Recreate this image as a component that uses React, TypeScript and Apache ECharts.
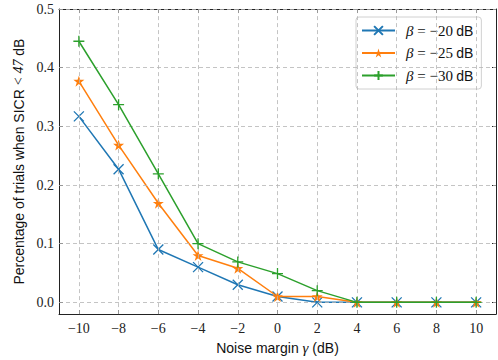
import React, { useEffect, useRef } from "react";
import * as echarts from "echarts";

const xValues = [-10, -8, -6, -4, -2, 0, 2, 4, 6, 8, 10];
const beta20 = [0.317, 0.227, 0.09, 0.06, 0.03, 0.01, 0, 0, 0, 0, 0];
const beta25 = [0.377, 0.268, 0.169, 0.08, 0.058, 0.01, 0.01, 0, 0, 0, 0];
const beta30 = [0.445, 0.337, 0.219, 0.1, 0.069, 0.049, 0.02, 0, 0, 0, 0];
const xTicks = [-10, -8, -6, -4, -2, 0, 2, 4, 6, 8, 10];
const yTicks = [0, 0.1, 0.2, 0.3, 0.4, 0.5];
const seriesNames = ["β = −20 dB", "β = −25 dB", "β = −30 dB"];
const colors = ["#1f77b4", "#ff7f0e", "#2ca02c"];

const SERIF = "'Liberation Serif', 'DejaVu Serif', serif";
const SANS = "'Liberation Sans', Arial, sans-serif";

const X_PATH = "path://M0,0L10,10M10,0L0,10";
const PLUS_PATH = "path://M5,0L5,10M0,5L10,5";
const STAR_PATH =
  "path://M5,0L6.18,3.82L10,3.82L6.91,6.18L8.09,10L5,7.64L1.91,10L3.09,6.18L0,3.82L3.82,3.82Z";

const fmtX = (v: number) => (v < 0 ? "−" + Math.abs(v) : String(v));

export default function App() {
  const ref = useRef<HTMLDivElement>(null);
  useEffect(() => {
    if (!ref.current) return;
    const chart = echarts.init(ref.current, undefined, { renderer: "svg" });
    const tickCommon = {
      show: true,
      inside: true,
      length: 4,
      lineStyle: { color: "#222", width: 1 },
    };
    const axisLine = { show: true, onZero: false, lineStyle: { color: "#222", width: 1 } };
    const mk = (i: number, data: number[], symbol: string, size: number, fill: boolean) => ({
      type: "line",
      name: seriesNames[i],
      data: xValues.map((x, k) => [x, data[k]]),
      xAxisIndex: 0,
      yAxisIndex: 0,
      symbol,
      symbolSize: size,
      showAllSymbol: true,
      clip: false,
      z: 3 + i,
      lineStyle: { color: colors[i], width: 1.5 },
      itemStyle: {
        color: fill ? colors[i] : "rgba(0,0,0,0)",
        borderColor: colors[i],
        borderWidth: fill ? 0 : 1.3,
      },
    });
    chart.setOption({
      animation: false,
      grid: { left: 59, right: 2, top: 9, bottom: 43, containLabel: false },
      xAxis: [
        {
          type: "value",
          min: -11,
          max: 11,
          position: "bottom",
          axisLine,
          axisTick: { ...tickCommon, customValues: xTicks },
          splitLine: { show: false },
          axisLabel: {
            customValues: xTicks,
            formatter: (v: number) => fmtX(v),
            fontFamily: SERIF,
            fontSize: 14,
            color: "#222",
            margin: 7,
          },
          name: "Noise margin {g|γ} (dB)",
          nameLocation: "middle",
          nameGap: 24,
          nameTextStyle: {
            fontFamily: SANS,
            fontSize: 14,
            color: "#111",
            rich: { g: { fontFamily: SERIF, fontStyle: "italic", fontSize: 15, color: "#111" } },
          },
        },
        {
          type: "value",
          min: -11,
          max: 11,
          position: "top",
          axisLine,
          axisTick: { ...tickCommon, customValues: xTicks },
          axisLabel: { show: false },
          splitLine: { show: false },
        },
      ],
      yAxis: [
        {
          type: "value",
          min: -0.02,
          max: 0.5,
          position: "left",
          axisLine,
          axisTick: { ...tickCommon, customValues: yTicks },
          splitLine: { show: false },
          axisLabel: {
            customValues: yTicks,
            formatter: (v: number) => v.toFixed(1),
            fontFamily: SERIF,
            fontSize: 14,
            color: "#222",
            margin: 5,
          },
          name: "Percentage of trials when SICR {m|<} {i|47} dB",
          nameLocation: "middle",
          nameGap: 27,
          nameRotate: 90,
          nameTextStyle: {
            fontFamily: SANS,
            fontSize: 14,
            color: "#111",
            rich: {
              m: { fontFamily: SERIF, fontSize: 14, color: "#111" },
              i: { fontFamily: SERIF, fontStyle: "italic", fontSize: 14, color: "#111" },
            },
          },
        },
        {
          type: "value",
          min: -0.02,
          max: 0.5,
          position: "right",
          axisLine,
          axisTick: { ...tickCommon, customValues: yTicks },
          axisLabel: { show: false },
          splitLine: { show: false },
        },
      ],
      legend: {
        data: seriesNames,
        orient: "vertical",
        left: 356,
        top: 17,
        width: 133,
        padding: [6, 8, 6, 5],
        itemWidth: 33,
        itemHeight: 11,
        itemGap: 7.5,
        backgroundColor: "rgba(255,255,255,0.85)",
        borderColor: "#d0d0d0",
        borderWidth: 1,
        borderRadius: 3,
        formatter: (name: string) => {
          const rest = name.slice(1).replace(" dB", "");
          return "{b|β}{t|" + rest + "} {d|dB}";
        },
        textStyle: {
          rich: {
            b: { fontFamily: SERIF, fontStyle: "italic", fontSize: 15, color: "#111", padding: [0, 0, 0, 6] },
            t: { fontFamily: SERIF, fontSize: 15, color: "#111" },
            d: { fontFamily: SANS, fontSize: 14, color: "#111" },
          },
        },
      },
      series: [
        {
          type: "line",
          name: "grid",
          data: [],
          xAxisIndex: 0,
          yAxisIndex: 0,
          z: 1,
          silent: true,
          markLine: {
            silent: true,
            symbol: "none",
            label: { show: false },
            animation: false,
            lineStyle: { color: "#b5b5b5", type: [4, 3], width: 0.8 },
            data: [
              ...xTicks.map((v) => ({ xAxis: v })),
              ...yTicks.map((v) => ({ yAxis: v })),
            ],
          },
        },
        mk(0, beta20, X_PATH, 10, false),
        mk(1, beta25, STAR_PATH, 11, true),
        mk(2, beta30, PLUS_PATH, 11, false),
      ],
    });
    return () => chart.dispose();
  }, []);
  return (
    <div
      ref={ref}
      style={{ position: "fixed", left: 0, top: 0, width: 498, height: 360, background: "#fff" }}
    />
  );
}
